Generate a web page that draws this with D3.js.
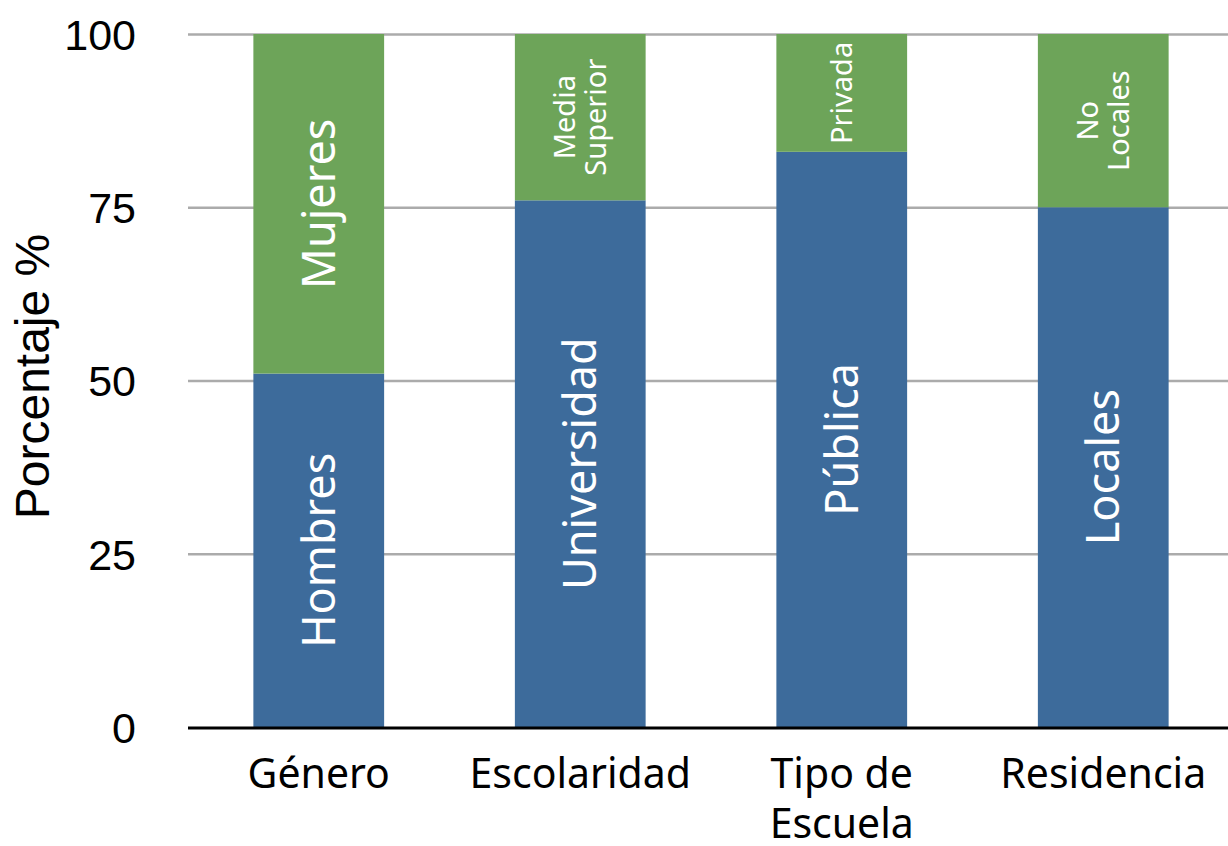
<!DOCTYPE html>
<html>
<head>
<meta charset="utf-8">
<script src="https://cdn.jsdelivr.net/npm/d3@7"></script>
<style>
  html, body { margin: 0; padding: 0; background: #fff; }
  svg { display: block; }
</style>
</head>
<body>
<svg id="chart" width="1228" height="846"></svg>
<script>
// ---- data ----
const categories = ["Género", "Escolaridad", "Tipo de Escuela", "Residencia"];
const categoryLines = [["Género"], ["Escolaridad"], ["Tipo de", "Escuela"], ["Residencia"]];
const bottomValues = [51, 76, 83, 75];
const topValues = [49, 24, 17, 25];
const bottomLabels = [["Hombres"], ["Universidad"], ["Pública"], ["Locales"]];
const topLabels = [["Mujeres"], ["Media", "Superior"], ["Privada"], ["No", "Locales"]];
const yTicks = [0, 25, 50, 75, 100];
const yTitle = "Porcentaje %";

// ---- setup ----
const W = 1228, H = 846;
const svg = d3.select("#chart");
const x = d3.scaleBand().domain(categories).range([188, 1234]).paddingInner(0.5).paddingOuter(0.25);
const y = d3.scaleLinear().domain([0, 100]).range([727, 34]);

const rows = categories.map((c, i) => ({ cat: c, bottom: bottomValues[i], top: topValues[i], i }));
const stack = d3.stack().keys(["bottom", "top"]);
const series = stack(rows);
const colors = { bottom: "#3d6b9b", top: "#6da459" };
const segLabels = { bottom: bottomLabels, top: topLabels };

// gridlines
const grid = d3.axisLeft(y).tickValues(yTicks.filter(v => v > 0)).tickSize(-(W - 188)).tickFormat("");
svg.append("g").attr("transform", "translate(188,0)").call(grid)
  .call(g => g.select(".domain").remove())
  .call(g => g.selectAll("line").attr("stroke", "#ababab").attr("stroke-width", 2.5));

// bars
const layers = svg.append("g").selectAll("g").data(series).join("g").attr("fill", d => colors[d.key]);
layers.selectAll("rect").data(d => d).join("rect")
  .attr("x", d => x(d.data.cat))
  .attr("width", x.bandwidth())
  .attr("y", d => y(d[1]))
  .attr("height", d => y(d[0]) - y(d[1]));

// segment labels
series.forEach(s => {
  s.forEach((d, i) => {
    const lines = segLabels[s.key][i];
    const segVal = d[1] - d[0];
    const fs = segVal < 30 ? 29 : 45;
    const lh = fs * 1.05;
    const cx = x(d.data.cat) + x.bandwidth() / 2;
    const cy = y((d[0] + d[1]) / 2);
    const t = svg.append("text")
      .attr("transform", `translate(${cx},${cy}) rotate(-90)`)
      .attr("text-anchor", "middle")
      .attr("fill", "#ffffff")
      .attr("font-family", "'Noto Sans', 'Open Sans', sans-serif")
      .attr("font-size", fs);
    lines.forEach((ln, k) => {
      const off = (k - (lines.length - 1) / 2) * lh;
      t.append("tspan").attr("x", 0).attr("y", off).attr("dy", "0.36em").text(ln);
    });
  });
});

// x axis
const xAxis = d3.axisBottom(x).tickSize(0).tickFormat("");
const xg = svg.append("g").attr("transform", "translate(0,728)").call(xAxis);
xg.select(".domain").remove();
svg.append("line").attr("x1", 188).attr("x2", W).attr("y1", 728).attr("y2", 728)
  .attr("stroke", "#000").attr("stroke-width", 3);
xg.selectAll(".tick").each(function(d, i) {
  const t = d3.select(this).append("text")
    .attr("fill", "#000")
    .attr("text-anchor", "middle")
    .attr("font-family", "'Noto Sans', sans-serif")
    .attr("font-size", 41);
  categoryLines[i].forEach((ln, k) => {
    t.append("tspan").attr("x", 0).attr("y", 60 + k * 50).text(ln);
  });
});

// y axis labels
const yAxis = d3.axisLeft(y).tickValues(yTicks).tickSize(0).tickPadding(0);
const yg = svg.append("g").attr("transform", "translate(136,0)").call(yAxis);
yg.select(".domain").remove();
yg.selectAll("text")
  .attr("font-family", "'Liberation Sans', Arial, sans-serif")
  .attr("font-size", 43)
  .attr("fill", "#000")
  .attr("dy", "0.36em");

// y title
svg.append("text")
  .attr("transform", `translate(49,${y(50) - 4}) rotate(-90)`)
  .attr("text-anchor", "middle")
  .attr("font-family", "'Liberation Sans', Arial, sans-serif")
  .attr("font-size", 48)
  .attr("fill", "#000")
  .text(yTitle);
</script>
</body>
</html>
